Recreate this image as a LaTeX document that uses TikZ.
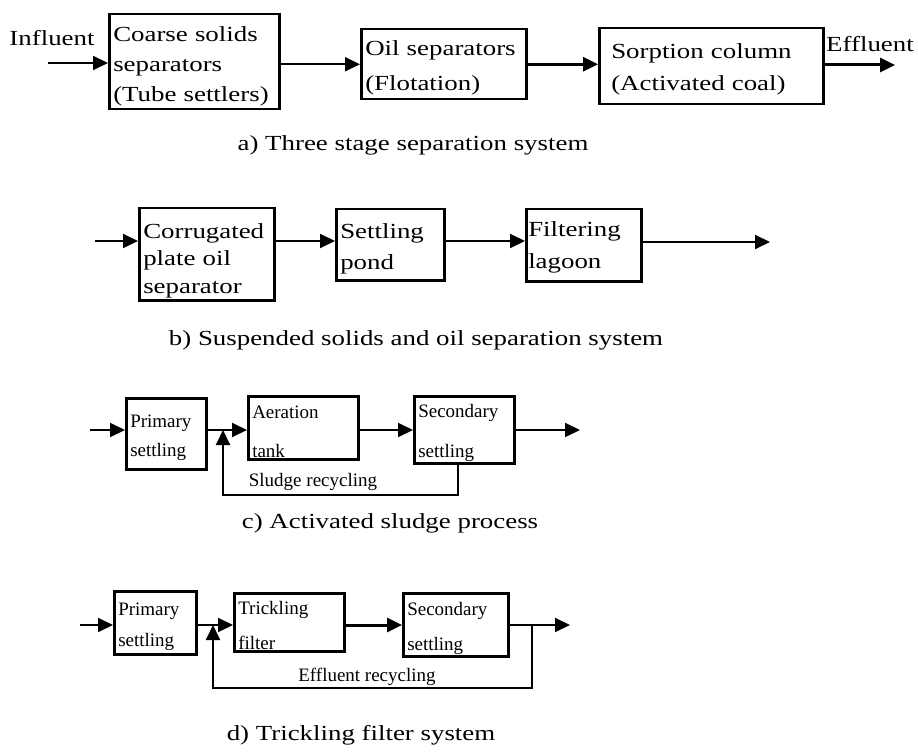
\documentclass[tikz,border=0pt]{standalone}
\usepackage{fontspec}
\setmainfont{Liberation Serif}[FakeStretch=1.25]
\newfontfamily\plainserif{Liberation Serif}
\usetikzlibrary{arrows.meta}
\newcommand\bigtxt{\fontsize{21.5}{30}\selectfont}
\newcommand\smalltxt{\plainserif\fontsize{19}{29}\selectfont}
\newcommand\upstrut[1]{\rule{0pt}{#1}}
\begin{document}
\begin{tikzpicture}[x=1pt,y=-1pt,
  box/.style={draw, line width=2.5pt, rectangle, inner xsep=4pt, inner ysep=0pt,
    align=left, anchor=north west},
  arr/.style={line width=1.9pt, -{Triangle[length=15pt,width=14pt]}},
  thickarr/.style={line width=3pt, -{Triangle[length=15pt,width=14pt]}},
  lbl/.style={inner sep=0pt}]
\useasboundingbox (0,0) rectangle (918,754);

% ---------- row a ----------
\node[box, font=\bigtxt, minimum width=170pt, minimum height=95pt, text width=162pt] (a1) at (108,13)
  {\upstrut{24pt}Coarse solids\\separators\\(Tube settlers)};
\node[box, font=\bigtxt, minimum width=165pt, minimum height=70pt, text width=157pt] (a2) at (360,28)
  {\upstrut{22pt}Oil separators\\[5pt](Flotation)};
\node[box, font=\bigtxt, inner xsep=12pt, minimum width=224pt, minimum height=76pt, text width=200pt] (a3) at (598,27)
  {\upstrut{22pt}Sorption column\\[2pt](Activated coal)};
\node[lbl, font=\bigtxt] (infl) at (52,38) {Influent};
\node[lbl, font=\bigtxt] (effl) at (870,44) {Effluent};
\coordinate (ain) at (48,63);
\coordinate (aout) at (895,65);
\draw[arr] (ain) -- (ain -| a1.west);
\draw[arr] (a1.east |- a2.west) -- (a2.west);
\draw[thickarr] (a2.east) -- (a2.east -| a3.west);
\draw[thickarr] (aout -| a3.east) -- (aout);
\node[lbl, font=\bigtxt] (capa) at (413,145) {a) Three stage separation system};

% ---------- row b ----------
\node[box, font=\bigtxt, minimum width=135pt, minimum height=92pt, text width=127pt] (b1) at (138,207)
  {\upstrut{28pt}Corrugated\\[-2.5pt]plate oil\\[-2.5pt]separator};
\node[box, font=\bigtxt, minimum width=108pt, minimum height=71pt, text width=100pt] (b2) at (335,208)
  {\upstrut{24pt}Settling\\[1pt]pond};
\node[box, font=\bigtxt, inner xsep=2pt, minimum width=115pt, minimum height=72pt, text width=111pt] (b3) at (525,208)
  {\upstrut{20pt}Filtering\\[2pt]lagoon};
\coordinate (bin) at (95,241);
\coordinate (bout) at (770,242);
\draw[arr] (bin) -- (bin -| b1.west);
\draw[arr] (b1.east |- bin) -- (b2.west |- bin);
\draw[arr] (b2.east |- bin) -- (b3.west |- bin);
\draw[arr] (bout -| b3.east) -- (bout);
\node[lbl, font=\bigtxt] (capb) at (416,340) {b) Suspended solids and oil separation system};

% ---------- row c ----------
\node[box, font=\smalltxt, minimum width=80pt, minimum height=71pt, text width=72pt] (c1) at (125,397)
  {\upstrut{20pt}Primary\\settling};
\node[box, font=\smalltxt, minimum width=110pt, minimum height=63pt, text width=102pt] (c2) at (247,395)
  {\upstrut{20pt}Aeration\\[10pt]tank};
\node[box, font=\smalltxt, minimum width=100pt, minimum height=67pt, text width=92pt] (c3) at (413,395)
  {\upstrut{20pt}Secondary\\[11pt]settling};
\coordinate (cin) at (90,430);
\coordinate (cj) at (223,430);
\coordinate (cr) at (458,495);
\coordinate (cout) at (580,430);
\draw[arr] (cin) -- (cin -| c1.west);
\draw[arr] (c1.east |- cin) -- (c2.west |- cin);
\draw[arr] (c2.east |- cin) -- (c3.west |- cin);
\draw[arr] (c3.east |- cin) -- (cout);
\draw[arr] (c3.south -| cr) -- (cr) -- (cr -| cj) -- (cj);
\node[lbl, font=\smalltxt] (sludge) at (313,482) {Sludge recycling};
\node[lbl, font=\bigtxt] (capc) at (390,523) {c) Activated sludge process};

% ---------- row d ----------
\node[box, font=\smalltxt, minimum width=82pt, minimum height=63pt, text width=74pt] (d1) at (113,590)
  {\upstrut{20pt}Primary\\[2pt]settling};
\node[box, font=\smalltxt, minimum width=110pt, minimum height=58pt, text width=102pt] (d2) at (233,592)
  {\upstrut{20pt}Trickling\\[6pt]filter};
\node[box, font=\smalltxt, minimum width=105pt, minimum height=63pt, text width=97pt] (d3) at (402,592)
  {\upstrut{20pt}Secondary\\[6pt]settling};
\coordinate (din) at (80,625);
\coordinate (dj) at (213,625);
\coordinate (dr) at (532,688);
\coordinate (dout) at (570,625);
\draw[arr] (din) -- (din -| d1.west);
\draw[arr] (d1.east |- din) -- (d2.west |- din);
\draw[thickarr] (d2.east |- din) -- (d3.west |- din);
\draw[arr] (d3.east |- din) -- (dout);
\draw[arr] (dr |- dout) -- (dr) -- (dr -| dj) -- (dj);
\node[lbl, font=\smalltxt] (effrec) at (367,677) {Effluent recycling};
\node[lbl, font=\bigtxt] (capd) at (361,735) {d) Trickling filter system};
\end{tikzpicture}
\end{document}
